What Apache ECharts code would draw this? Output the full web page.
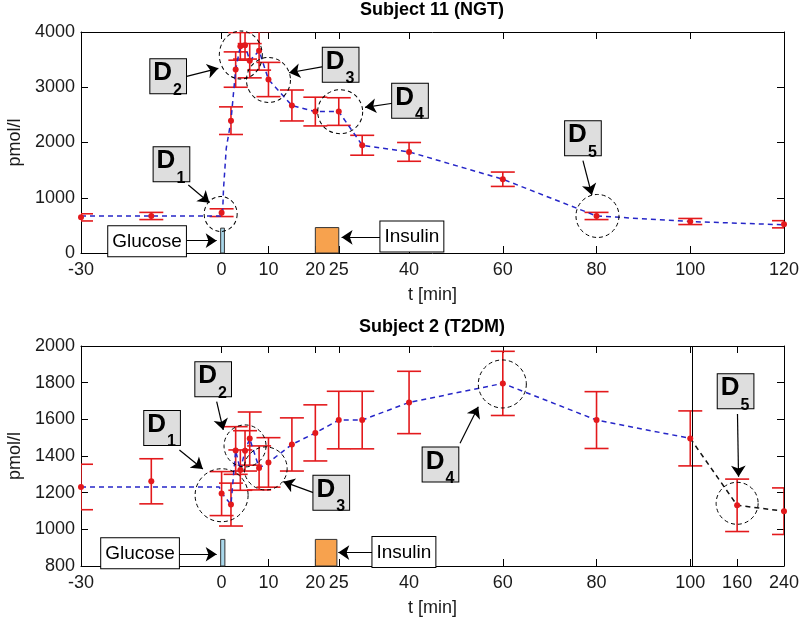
<!DOCTYPE html>
<html><head><meta charset="utf-8">
<script src="https://cdn.jsdelivr.net/npm/echarts@6/dist/echarts.min.js"></script>
<style>html,body{margin:0;padding:0;background:#fff}#c{width:800px;height:620px}</style>
</head><body><div id="c"></div>
<script>
// ---------------- data ----------------
// tick labels (minutes)
const xTickTimesNGT = [-30, 0, 10, 20, 25, 40, 60, 80, 100, 120];
const xTickTimesT2  = [-30, 0, 10, 20, 25, 40, 60, 80, 100, 160, 240];
// Subject 11 (NGT): measured means and error half-widths (pmol/l)
const timesNGT = [-30, -15, 0, 2, 3, 4, 5, 6, 8, 10, 15, 20, 25, 30, 40, 60, 80, 100, 120];
const meanNGT  = [645, 670, 730, 2395, 3320, 3740, 3760, 3480, 3660, 3140, 2670, 2560, 2560, 1950, 1830, 1335, 670, 570, 520];
const errNGT   = [65, 65, 70, 250, 320, 250, 250, 310, 350, 310, 280, 260, 250, 180, 170, 130, 65, 55, 65];
// model curve (blue dashed)
const modelTimesNGT = [-30, 0.2, 0.4, 1, 2, 3, 4, 5, 6, 8, 10, 15, 20, 25, 30, 40, 60, 80, 100, 120];
const modelNGT      = [670, 670, 1150, 1900, 2395, 3320, 3740, 3760, 3480, 3660, 3140, 2670, 2560, 2560, 1950, 1830, 1335, 670, 570, 510];
// Subject 2 (T2DM)
const timesT2 = [-30, -15, 0, 2, 3, 4, 5, 6, 8, 10, 15, 20, 25, 30, 40, 60, 80, 100, 160, 240];
const meanT2  = [1231, 1262, 1195, 1135, 1430, 1323, 1428, 1495, 1335, 1365, 1463, 1526, 1596, 1596, 1692, 1796, 1596, 1496, 1131, 1099];
const errT2   = [124, 123, 120, 117, 130, 110, 110, 145, 120, 135, 145, 153, 157, 157, 170, 175, 155, 150, 143, 127];
const modelTimesT2 = [-30, -0.5, 0, 2, 3, 4, 5, 6, 8, 10, 15, 20, 25, 30, 40, 60, 80, 100];
const modelT2      = [1231, 1231, 1199, 1135, 1430, 1323, 1428, 1495, 1335, 1365, 1463, 1526, 1596, 1596, 1692, 1796, 1596, 1496];
const tailTimesT2 = [100, 160, 240];
const tailT2      = [1496, 1131, 1099];
// stimuli: [t0, t1, v0, v1]
const glucoseNGT = [-0.2, 0.6, 0, 450];
const insulinNGT = [20, 25, 0, 460];
const glucoseT2  = [-0.2, 0.7, 800, 945];
const insulinT2  = [20, 24.6, 800, 945];
// annotation anchors (minutes, pmol/l)
const circlesNGT = [[-0.2, 706], [4.1, 3584], [10, 3131], [25.3, 2557], [80.2, 670]];
const circlesT2  = [[0, 1186], [5, 1455], [9.4, 1332], [59.9, 1793], [160, 1142]];
const dLabelsNGT = [[-10.7, 1607, '1'], [-11.4, 3200, '2'], [25.4, 3408, '3'], [40.2, 2755, '4'], [77.1, 2078, '5']];
const dLabelsT2  = [[-12.7, 1553, '1'], [-1.8, 1819, '2'], [23.4, 1199, '3'], [46.7, 1353, '4'], [158, 1753, '5']];
const arrowsNGT = [
  [[-7.1, 1231], [-2.6, 910]], [[-7.66, 3191], [-0.7, 3343]], [[21.7, 3372], [14.4, 3263]],
  [[36.5, 2710], [30.6, 2637]], [[77.1, 1671], [79, 1050]],
  [[-7.45, 223], [-1.05, 223]], [[34.0, 284], [25.6, 284]]
];
const arrowsT2 = [
  [[-9.0, 1433], [-4.0, 1329]], [[-1.05, 1696], [0.36, 1542]], [[19.57, 1200], [13.17, 1260]],
  [[50.87, 1469], [54.77, 1669]], [[160.6, 1629], [162.4, 1287]],
  [[-9.0, 864], [-1.05, 864]], [[32.2, 873], [24.9, 873]]
];
const textBoxesNGT = [[-15.9, 212, 'Glucose'], [40.6, 299, 'Insulin']];
const textBoxesT2  = [[-17.4, 869, 'Glucose'], [38.9, 876, 'Insulin']];

// ---------------- helpers ----------------
const FONT = '"Liberation Sans", Arial, Helvetica, sans-serif';
const RED = '#e3191c', BLUE = '#2626c8', TXT = '#1a1a1a';
const idT = t => t;
// bottom chart time axis is compressed after 100 min
const axT2 = t => t <= 100 ? t : (t <= 160 ? 100 + (t - 100) / 6 : 110 + (t - 160) / 8);

function xAxes(gridIndex, tickTimes, map) {
  const pos = tickTimes.map(map);
  const base = {
    type: 'value', gridIndex, min: map(-30), max: map(tickTimes[tickTimes.length - 1]),
    splitLine: { show: false },
    axisLine: { show: true, onZero: false, lineStyle: { color: '#000', width: 1 } },
    axisTick: { show: true, inside: true, length: 7, customValues: pos, lineStyle: { color: '#000' } }
  };
  return [
    Object.assign({}, base, {
      position: 'bottom',
      name: 't [min]', nameLocation: 'middle', nameGap: 33,
      nameTextStyle: { fontFamily: FONT, fontSize: 18, color: TXT },
      axisLabel: {
        show: true, customValues: pos, margin: 8, fontFamily: FONT, fontSize: 18, color: TXT,
        formatter: v => { const i = pos.findIndex(p => Math.abs(p - v) < 1e-6); return i >= 0 ? String(tickTimes[i]) : ''; }
      }
    }),
    Object.assign({}, base, { position: 'top', axisLabel: { show: false } })
  ];
}
function yAxes(gridIndex, min, max, interval) {
  const base = {
    type: 'value', gridIndex, min, max, interval,
    splitLine: { show: false },
    axisLine: { show: true, onZero: false, lineStyle: { color: '#000', width: 1 } },
    axisTick: { show: true, inside: true, length: 7, lineStyle: { color: '#000' } }
  };
  return [
    Object.assign({}, base, {
      position: 'left', name: 'pmol/l', nameLocation: 'middle', nameGap: 56,
      nameTextStyle: { fontFamily: FONT, fontSize: 18, color: TXT },
      axisLabel: { show: true, margin: 6, fontFamily: FONT, fontSize: 18, color: TXT, formatter: v => String(v) }
    }),
    Object.assign({}, base, { position: 'right', axisLabel: { show: false } })
  ];
}
function errorBarSeries(xi, yi, times, means, errs, map) {
  return {
    type: 'custom', xAxisIndex: xi, yAxisIndex: yi, clip: true, silent: true, z: 3,
    data: times.map((t, i) => [map(t), means[i] - errs[i], means[i] + errs[i]]),
    renderItem: (params, api) => {
      const x = api.value(0);
      const lo = api.coord([x, api.value(1)]), hi = api.coord([x, api.value(2)]);
      const hw = 12;
      const style = { stroke: RED, lineWidth: 1.6, fill: null };
      return { type: 'group', children: [
        { type: 'line', shape: { x1: hi[0], y1: hi[1], x2: lo[0], y2: lo[1] }, style },
        { type: 'line', shape: { x1: hi[0] - hw, y1: hi[1], x2: hi[0] + hw, y2: hi[1] }, style },
        { type: 'line', shape: { x1: lo[0] - hw, y1: lo[1], x2: lo[0] + hw, y2: lo[1] }, style }
      ] };
    }
  };
}
function stimulusSeries(xi, yi, gl, ins, map) {
  const fills = ['#a9d7ea', '#f7a24e'];
  return {
    type: 'custom', xAxisIndex: xi, yAxisIndex: yi, silent: true, z: 4,
    data: [gl, ins].map(r => [map(r[0]), map(r[1]), r[2], r[3]]),
    renderItem: (params, api) => {
      const p0 = api.coord([api.value(0), api.value(2)]);
      const p1 = api.coord([api.value(1), api.value(3)]);
      return { type: 'rect', shape: { x: p0[0], y: p1[1], width: p1[0] - p0[0], height: p0[1] - p1[1] },
        style: { fill: fills[params.dataIndex], stroke: '#333', lineWidth: 1 } };
    }
  };
}
function lineSeries(xi, yi, times, vals, map, color) {
  return {
    type: 'line', xAxisIndex: xi, yAxisIndex: yi, silent: true, z: 5,
    data: times.map((t, i) => [map(t), vals[i]]),
    showSymbol: false, symbol: 'none',
    lineStyle: { color, width: 1.5, type: [5, 4] }
  };
}
function pointSeries(xi, yi, times, vals, map) {
  return {
    type: 'scatter', xAxisIndex: xi, yAxisIndex: yi, silent: true, z: 6,
    data: times.map((t, i) => [map(t), vals[i]]),
    symbol: 'circle', symbolSize: 6, itemStyle: { color: RED, opacity: 1 }
  };
}
function circleSeries(xi, yi, circ, map, sizes) {
  return {
    type: 'scatter', xAxisIndex: xi, yAxisIndex: yi, silent: true, z: 7,
    data: circ.map((c, i) => ({ value: [map(c[0]), c[1]], symbolSize: sizes[i] })),
    symbol: 'circle',
    itemStyle: { color: 'rgba(0,0,0,0)', borderColor: '#000', borderWidth: 1, borderType: [4, 3], opacity: 1 }
  };
}
function arrowSeries(xi, yi, arrows, map) {
  return {
    type: 'lines', coordinateSystem: 'cartesian2d', xAxisIndex: xi, yAxisIndex: yi, silent: true, z: 8,
    symbol: ['none', 'arrow'], symbolSize: 11,
    lineStyle: { color: '#000', width: 1.2, opacity: 1, curveness: 0 },
    data: arrows.map(a => ({ coords: [[map(a[0][0]), a[0][1]], [map(a[1][0]), a[1][1]]] }))
  };
}
function labelSeries(xi, yi, dl, boxes, map) {
  const dItems = dl.map(d => ({
    value: [map(d[0]), d[1]],
    label: {
      formatter: '{d|D}{s|' + d[2] + '}', backgroundColor: '#dedede',
      padding: [1, 4, 7, 3]
    }
  }));
  const tItems = boxes.map(b => ({
    value: [map(b[0]), b[1]],
    label: { formatter: '{t|' + b[2] + '}', backgroundColor: '#fff', padding: [5, 4, 4, 4] }
  }));
  return {
    type: 'scatter', xAxisIndex: xi, yAxisIndex: yi, silent: true, z: 10, clip: false,
    symbolSize: 1, itemStyle: { color: 'rgba(0,0,0,0)' },
    data: dItems.concat(tItems),
    label: {
      show: true, position: 'inside', borderColor: '#000', borderWidth: 1,
      color: '#000', opacity: 1, textBorderWidth: 0, textShadowBlur: 0,
      rich: {
        d: { fontFamily: FONT, fontSize: 26, fontWeight: 'bold', lineHeight: 26, verticalAlign: 'top', color: '#000', textBorderWidth: 0 },
        s: { fontFamily: FONT, fontSize: 16, fontWeight: 'bold', lineHeight: 16, verticalAlign: 'top', padding: [22, 0, 0, 1], color: '#000', textBorderWidth: 0 },
        t: { fontFamily: FONT, fontSize: 19, lineHeight: 21, color: '#000', textBorderWidth: 0 }
      }
    }
  };
}

const circleSizesNGT = [[33, 35], [43, 48], [44, 45], [45, 44], [43, 43]];
const circleSizesT2  = [[53, 53], [42, 42], [43, 43], [48, 48], [42, 42]];

const option = {
  animation: false,
  backgroundColor: '#fff',
  title: [
    { text: 'Subject 11 (NGT)', left: 432, top: 1, textAlign: 'center', padding: 0,
      textStyle: { fontFamily: FONT, fontSize: 18, fontWeight: 'bold', color: '#000' } },
    { text: 'Subject 2 (T2DM)', left: 432, top: 318, textAlign: 'center', padding: 0,
      textStyle: { fontFamily: FONT, fontSize: 18, fontWeight: 'bold', color: '#000' } }
  ],
  grid: [
    { left: 81, right: 16, top: 32, height: 221, outerBoundsMode: 'none', containLabel: false },
    { left: 81, right: 16, top: 346, height: 220, outerBoundsMode: 'none', containLabel: false }
  ],
  xAxis: [].concat(xAxes(0, xTickTimesNGT, idT), xAxes(1, xTickTimesT2, axT2)),
  yAxis: [].concat(yAxes(0, 0, 4000, 1000), yAxes(1, 800, 2000, 200)),
  series: [
    // top chart
    stimulusSeries(0, 0, glucoseNGT, insulinNGT, idT),
    errorBarSeries(0, 0, timesNGT, meanNGT, errNGT, idT),
    lineSeries(0, 0, modelTimesNGT, modelNGT, idT, BLUE),
    pointSeries(0, 0, timesNGT, meanNGT, idT),
    circleSeries(0, 0, circlesNGT, idT, circleSizesNGT),
    arrowSeries(0, 0, arrowsNGT, idT),
    labelSeries(0, 0, dLabelsNGT, textBoxesNGT, idT),
    // bottom chart
    stimulusSeries(2, 2, glucoseT2, insulinT2, axT2),
    errorBarSeries(2, 2, timesT2, meanT2, errT2, axT2),
    Object.assign(lineSeries(2, 2, modelTimesT2, modelT2, axT2, BLUE), {
      markLine: { silent: true, symbol: 'none', label: { show: false },
        lineStyle: { color: '#000', width: 1, type: 'solid' }, data: [{ xAxis: 100.5 }] }
    }),
    lineSeries(2, 2, tailTimesT2, tailT2, axT2, '#111'),
    pointSeries(2, 2, timesT2, meanT2, axT2),
    circleSeries(2, 2, circlesT2, axT2, circleSizesT2),
    arrowSeries(2, 2, arrowsT2, axT2),
    labelSeries(2, 2, dLabelsT2, textBoxesT2, axT2)
  ]
};
const chart = echarts.init(document.getElementById('c'), null, { renderer: 'canvas' });
chart.setOption(option);
</script></body></html>
